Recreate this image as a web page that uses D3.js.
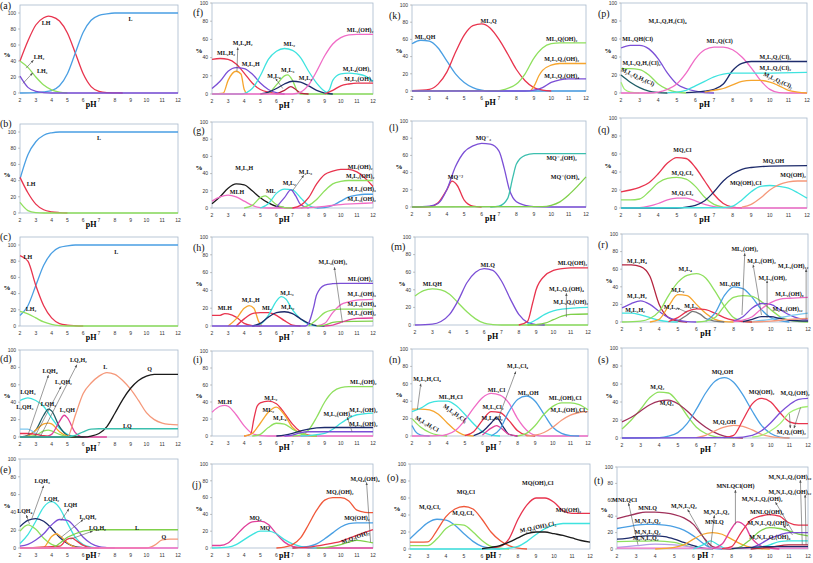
<!DOCTYPE html>
<html><head><meta charset="utf-8">
<script src="https://cdn.jsdelivr.net/npm/d3@7"></script>
<style>body{margin:0;background:#fff}svg{display:block}</style>
</head><body>
<svg id="chart" width="813" height="563"></svg>
<script>
// ---------- tick labels ----------
const xTicks = [2,3,4,5,6,7,8,9,10,11,12];
const yTicks = [0,20,40,60,80,100];

// ---------- palette ----------
const COL = {
  red:"#e8344e", blue:"#4a9fe3", green:"#8fe05e", purple:"#7b4fd6", pink:"#f06cc6", cyan:"#3fe3df",
  orange:"#f6a52e", navy:"#1d2b6b", black:"#1a1a1a", salmon:"#f5987a", teal:"#3cbfae", dred:"#b4243f",
  lgreen:"#a4ee74", lblue:"#7cc8f0", lpurple:"#b59be8", grey:"#777777", magenta:"#e0409a",
  dteal:"#1f5d66", ored:"#f0583a", maroon:"#a0305a", lgreen2:"#7fd04a"
};

// ---------- data: each series is flat [pH, %, pH, %, ...] ----------
// (a)
const sA = [
 [2,40,2.5,65,3,85,3.5,94,3.8,96,4,95.5,4.5,90,5,75,5.5,50,6,24,6.5,8,7,2,7.5,0.5,8,0.2,8.5,0],
 [2,0,3,0.5,3.5,1.5,4,3,4.5,9,5,24,5.5,50,6,76,6.5,91,7,97,7.5,99,8,100,12,100],
 [2,40,2.5,32,3,20,3.5,10,4,4,4.5,1,5,0],
 [2,21,2.5,7,3,2,3.5,0.5,4,0,12,0]];
const cA = ["red","blue","green","purple"];
const lA = [["LH",3.65,87],["L",9.0,92],["LH2",3.2,45],["LH3",3.4,27]];
const aA = [[2.38,31,2.85,41],[2.19,12,2.8,25]];
// (b)
const sB = [
 [2,42,2.5,72,3,88,3.5,96,4,99,4.5,100,12,100],
 [2,44,2.5,25,3,11,3.5,4,4,1.5,4.5,0.5,5,0],
 [2,13,2.5,3,3,0.5,3.5,0,12,0]];
const cB = ["blue","red","green"];
const lB = [["L",7.0,93],["LH",2.7,36]];
const aB = [];
// (c)
const sC = [
 [2,13,2.5,25,3,50,3.5,75,4,90,4.5,97,5,99,5.5,100,12,100],
 [2,87,2.5,80,3,50,3.5,25,4,10,4.5,3,5,1,5.5,0.3,6,0],
 [2,18,2.5,15,3,10,3.5,5,4,2,4.5,0.5,5,0,12,0]];
const cC = ["blue","red","green"];
const lC = [["LH",2.5,85],["L",8.1,91],["LH2",2.7,21]];
const aC = [];
// (d)
const sD = [
 [2,42,2.5,45,3,42,3.5,35,4,22,4.5,10,5,3,5.5,0.5,6,0],
 [2,0,2.5,2,3,8,3.5,25,3.8,32,4,30,4.5,12,5,2,5.5,0],
 [2,0,2.5,1,3,8,3.5,15,3.8,16,4,15,4.5,6,5,1,5.5,0],
 [2,0,3,2,3.5,7,3.8,8,4,7,4.5,3,5,0.5,5.5,0],
 [2,0,3.5,0,4,3,4.5,18,4.8,25,5,22,5.5,5,6,0,7.5,0],
 [2,9,2.5,9,3,4,3.5,1,4,0],
 [2,4,2.5,4,3,3,3.5,1.5,4,0.5,4.5,0],
 [2,0,5,0,5.5,25,6,50,6.5,62,7,70,7.5,74,8,72,8.5,65,9,55,9.5,42,10,28,10.5,20,11,16,11.5,14.5,12,14],
 [2,0,6,0,6.5,1,7,4,7.5,12,8,27,8.5,43,9,56,9.5,65,10,70,10.5,72,11,72,12,72],
 [2,0,5,0,5.5,2,6,6,6.5,9,7,9.5,12,9.5]];
const cD = ["cyan","dteal","orange","green","magenta","lblue","red","salmon","black","teal"];
const lD = [["LQ2H2",5.7,88],["LQH4",3.9,76],["L2QH2",4.75,63],["LQH3",2.5,52],["L2QH3",2.3,35],["LQH2",3.8,38],["L2QH",5.0,31],["L",7.4,80],["Q",10.2,78],["LQ",8.8,13]];
const aD = [[3.3,1,5.6,83],[2.5,2,3.8,71],[2.95,1,4.6,58]];
// (e)
const sE = [
 [2,5,2.5,15,3,30,3.5,46,4,52,4.5,45,5,28,5.5,12,6,4,6.5,1,7,0],
 [2,24,2.5,31,3,33,3.5,30,4,22,4.5,12,5,5,5.5,1.5,6,0.5,6.5,0],
 [2,19,2.5,26,3,21,3.5,11,4,4,4.5,1,5,0],
 [2,2,2.5,4,3,9,3.5,16,4,26,4.5,32,5,31,5.5,23,6,12,6.5,5,7,1.5,7.5,0.5,8,0],
 [2,0,3.5,1,4,13,4.3,16,4.5,14,5,6,5.5,1,6,0],
 [2,0,4.5,2,5,10,5.3,11,5.5,9,6,3,6.5,0.5,7,0],
 [2,0,4,0,4.5,5,5,12,5.5,16,6,19,6.5,20,7,20.5,12,20.5],
 [2,0,10,0,10.5,3,11,9,11.5,10,12,10],
 [2,0,12,0]];
const cE = ["cyan","navy","green","purple","orange","red","lgreen2","salmon","pink"];
const lE = [["LQH3",3.4,75],["LQH2",4.0,55],["LQH",5.2,48],["LQH4",2.3,42],["L2QH2",6.3,35],["LQ2H2",6.9,22],["L",9.4,22],["Q",11.1,12]];
const aE = [[2.75,33,3.5,70],[2.6,27,2.4,37],[4.6,31,5.1,44],[4.6,12,6.0,32],[5.2,10,6.6,19]];
// (f)
const sF = [
 [2,38,2.5,39,3,38,3.5,33,4,23,4.5,12,5,5,5.5,2,6,0.5,6.5,0],
 [2,6,2.5,14,3,25,3.5,29,4,28,4.5,22,5,12,5.5,5,6,1.5,6.5,0],
 [2,0,2.7,1,3,15,3.5,25,3.8,22,4,5,4.2,0],
 [2,0,3.8,0,4.5,6,5,20,5.5,38,6,47,6.5,50,7,48,7.5,40,8,25,8.5,12,9,3,9.3,0.5,9.5,0],
 [5,0,5.5,1,6,10,6.5,20,6.7,21,7,15,7.3,3,7.5,0,12,0],
 [5,0,5.5,2,6,6,6.5,11,7,14,7.5,13,8,9,8.5,4,9,1,9.5,0],
 [6,0,6.5,4,6.9,8,7.2,5,7.5,1,8,0],
 [2,0,7,0,7.5,2,8,10,8.5,25,9,42,9.5,55,10,62,10.5,65,11,65.5,12,65.5],
 [9,0,9.3,5,9.5,15,10,22,10.5,23,11,22,11.5,20,12,14],
 [9,0,9.5,4,10,9,10.5,11,11,12,12,12]];
const cF = ["red","purple","orange","cyan","green","navy","dred","pink","cyan","red"];
const lF = [["ML2H2",2.87,45],["M2L4H2",3.9,56],["M2L3H",4.4,33],["ML2",6.8,55],["M2L3",6.7,26],["M2L2",7.8,18],["M2L4",5.85,20],["ML2(OH)2",11.2,70],["M2L4(OH)2",11.0,27],["M2L2(OH)2",11.1,16]];
const aF = [[3.55,25,3.6,51],[6.4,6,5.95,17]];
// (g)
const sG = [
 [2,5,2.5,13,3,23,3.5,28,4,27,4.5,20,5,12,5.5,6,6,2,6.5,0.5,7,0],
 [2,8,2.5,13,3,15,3.5,13,4,8,4.5,3,5,0.5,5.5,0,7.5,0],
 [4,0,4.5,3,5,12,5.3,14,5.5,12,6,4,6.5,0.5,7,0],
 [5,0,5.5,5,6,17,6.5,22,7,21,7.5,12,8,3,8.5,0],
 [6,1,6.5,12,6.9,21,7.2,14,7.5,4,8,0],
 [7,0,7.5,3,8,12,8.5,28,9,39,9.5,43,10,45,10.5,45,11,42,11.5,35,12,25],
 [7.5,0,8,3,8.5,10,9,20,9.5,28,10,31,10.5,32,12,32],
 [8.5,0,9,0.5,9.5,3,10,8,10.5,13,11,15,11.5,16,12,16],
 [7.5,0,8,0.5,9,2,10,4,11,5,12,6]];
const cG = ["black","pink","green","cyan","purple","red","green","blue","pink"];
const lG = [["M2L3H",4.0,46],["MLH",3.55,19],["ML",5.65,20],["M2L2",6.8,29],["M2L3",7.8,42],["ML(OH)2",11.2,48],["M2L2(OH)2",11.2,37],["M2L2(OH)3",11.3,22],["M2L3(OH)2",11.3,10]];
const aG = [[7.0,20,7.7,38]];
// (h)
const sH = [
 [2,12,2.5,12,2.8,14,3,13.5,3.5,10,4,3,4.5,0.5,5,0],
 [3,0,3.5,8,4,20,4.3,23,4.6,20,4.9,5,5.1,0],
 [3.5,0,4,8,4.5,14,5,15,5.5,15,6,12,6.5,6,7,1,7.5,0],
 [4.5,0,5,2,5.5,12,6,28,6.3,33,6.6,30,7,18,7.5,8,8,2,8.5,0],
 [4.5,0,5,3,5.5,10,6,15,6.5,16,7,14,7.5,8,8,3,8.5,0.5,9,0],
 [2,0,7.8,0,8,3,8.3,20,8.5,35,9,46,9.5,47.5,10,48,12,48],
 [8.5,0,9,3,9.5,15,10,24,10.5,27,11,29,12,30],
 [8,0,8.5,7,9,15,9.5,18,10,19,12,19],
 [8.5,0,9,1,9.5,4,10,5,12,5.5],
 [9,0,9.5,1,10,4,10.5,7,11,8.5,12,9]];
const cH = ["red","orange","red","cyan","navy","purple","pink","green","lgreen2","magenta"];
const lH = [["MLH",2.8,20],["M2L3H",4.4,29],["ML",5.4,20],["M2L3",6.65,37],["M2L2",6.7,21],["M2L3(OH)3",9.5,72],["ML(OH)2",11.2,53],["M2L3(OH)3",11.3,36],["M2L2(OH)4",11.3,25],["M2L3(OH)2",11.3,15]];
const aH = [[10.1,4,9.6,66]];
// (i)
const sI = [
 [2,28,2.5,35,2.8,36,3,35,3.5,25,4,12,4.5,3,5,0.5,5.5,0,12,0],
 [4,0,4.4,2,4.6,20,4.8,35,5,39,5.5,41,6,38,6.5,27,7,14,7.5,5,8,1,8.5,0],
 [4,0,4.5,3,5,15,5.5,28,6,34,6.5,25,7,10,7.5,3,8,0.5,8.5,0],
 [4.5,0,5,2,5.5,10,6,15,6.5,14,7,8,7.5,3,8,0.5,8.5,0],
 [7,0,7.5,1,8,7,8.5,22,9,40,9.5,52,10,57,10.5,58,12,58],
 [7.5,0,8,0.5,9,3,9.5,8,10,15,10.5,21,11,25,12,27],
 [6,0,6.5,1,7,3,7.5,6,8,8,8.5,9.5,9,10,12,10],
 [6.5,0,7,1,7.5,4,8,5,12,5]];
const cI = ["pink","red","orange","green","green","cyan","navy","purple"];
const lI = [["MLH",2.8,40],["M2L2",5.65,45],["ML2",5.5,31],["M2L4",6.2,21],["ML2(OH)2",11.4,64],["M2L2(OH)2",11.4,31],["M2L3(OH)3",9.8,26],["M2L3(OH)2",11.4,14]];
const aI = [[10.7,5,10.4,22]];
// (j)
const sJ = [
 [2,3,2.5,3,3,6,3.5,15,4,25,4.5,31,5,32,5.5,28,6,17,6.5,7,7,2,7.5,0.5,8,0,12,0],
 [2,0,3,1,3.5,4,4,10,4.5,16,5,20,5.5,20,6,17,6.5,10,7,5,7.5,2,8,0.5,8.5,0],
 [6,0,6.5,1,7,4,7.5,12,8,28,8.5,45,9,57,9.5,60,10,60,10.5,56,11,45,11.5,42.5,12,42],
 [7,0,7.5,1,8,2,8.5,5,9,11,9.5,18,10,25,10.5,29,11,30,12,30],
 [7,0,8,1,9,4,10,8,11,15,12,22],
 [8.5,0,9,0.5,10,4,10.5,7,11,9,11.5,8,12,6]];
const cJ = ["magenta","cyan","ored","blue","red","lgreen2"];
const lJ = [["MQ2",4.7,36],["MQ",5.3,24],["MQ2(OH)2",9.95,67],["MQ(OH)2",11.0,36],["M2Q4(OH)4",11.5,82],["M2Q2(OH)2",10.9,13,-20]];
const aJ = [[11.85,7,11.6,78]];
// (k)
const sK = [
 [2,55,2.5,59,3,58,3.5,50,4,35,4.5,20,5,10,5.5,4,6,1,6.5,0,12,0],
 [2,0.5,3,2,3.5,8,4,22,4.5,45,5,65,5.5,76,6,78,6.5,73,7,60,7.5,43,8,25,8.5,12,9,4,9.5,1,10,0],
 [2,0,7,0.5,7.5,3,8,8,8.5,20,9,38,9.5,50,10,55,10.5,56,12,56],
 [8.8,0,9,5,9.3,18,9.5,24,10,30,10.5,32,12,32],
 [2,0,8.5,0,9,1,9.5,4,10,10,10.5,13,11,14,12,14]];
const cK = ["blue","red","green","orange","purple"];
const lK = [["ML2QH",2.75,63],["ML2Q",6.4,81],["ML2Q(OH)2",10.6,60],["M2L2Q2(OH)2",10.6,37],["M2L2Q2(OH)4",10.6,17]];
const aK = [];
// (l)
const sL = [
 [2,0,3,0.5,3.5,5,4,20,4.3,30,4.6,25,5,8,5.5,1,6,0],
 [2,0,3,1,3.5,4,4,20,4.5,47,5,64,5.5,71,6,74,6.5,73,7,65,7.3,45,7.6,20,8,6,8.5,2,9,0.5,10,0,12,0],
 [6.5,0,7,1,7.5,10,7.8,35,8,50,8.5,60,9,62,10,62,12,62],
 [2,0,9.5,0.5,10,2,10.5,6,11,14,11.5,24,12,35]];
const cL = ["red","purple","teal","lgreen2"];
const lL = [["MQ^-^2",4.5,35],["MQ^-3",6.1,80],["MQ^-3(OH)2",10.6,57],["MQ^-(OH)4",10.8,35]];
const aL = [];
// (m)
const sM = [
 [2,33,2.5,39,3,41,3.5,40,4,35,4.5,25,5,15,5.5,7,6,2,6.5,0.5,7,0,12,0],
 [2,0,3,1,3.5,4,4,12,4.5,28,5,48,5.5,60,6,64,6.5,62,7,50,7.5,30,8,12,8.5,3,9,0.5,9.5,0],
 [8,0,8.5,4,8.8,25,9,40,9.5,56,10,62,10.5,64,11,65,12,65],
 [8.5,1,9,6,9.5,12,10,16,10.5,18,12,20],
 [8.5,0,9,0.5,9.5,2,10,6,10.5,10,11,12,12,12.5]];
const cM = ["green","purple","red","cyan","lgreen2"];
const lM = [["MLQH",3.0,47],["MLQ",6.2,68],["MLQ(OH)2",11.1,70],["M2L2Q2(OH)4",10.75,41],["M2L2Q2(OH)2",11.0,26]];
const aM = [[10.75,9,10.75,36]];
// (n)
const sN = [
 [2,31,2.5,31,3,30,3.5,25,4,15,4.5,6,5,1,5.5,0],
 [2,28,2.5,32,3,38,3.5,40,4,40,4.5,35,5,25,5.5,14,6,5,6.5,1,7,0],
 [2,20,2.5,10,3,4,3.5,1,4,0],
 [2,12,2.2,5,2.5,1,3,0],
 [2,0,3.5,0.5,4,2,4.5,7,5,18,5.5,32,6,44,6.5,49,7,47,7.5,38,8,20,8.5,7,9,1,9.5,0,12,0],
 [5,0.5,5.5,5,6,18,6.5,28,7,27,7.5,18,8,6,8.5,1,9,0],
 [5.5,0.5,6,5,6.5,15,6.8,21,7.2,10,7.5,2,8,0],
 [6,1,6.5,9,6.8,12,7,10,7.5,2,8,0],
 [6.5,0,7,8,7.5,28,8,42,8.5,46,9,40,9.5,25,10,10,10.5,3,11,0.5,11.5,0],
 [8,0,8.5,3,9,12,9.5,25,10,34,10.5,38,11,38,11.5,36,12,30],
 [8.5,0,9,1,9.5,4,10,10,10.5,18,11,24,11.5,27,12,28]];
const cN = ["orange","cyan","green","blue","pink","red","navy","magenta","blue","green","salmon"];
const lN = [["M2L2H2Cl4",2.85,65],["ML2H2Cl",4.2,45],["M2L3H2Cl2",4.45,26,35],["M2L2H2Cl",2.85,14,30],["ML2Cl",6.8,53],["M2L3Cl2",6.6,33],["M2L2Cl2",6.55,21],["M2L3Cl4",8.0,80],["ML2OH",8.6,50],["ML2(OH)2Cl",10.7,44],["M2L2(OH)2Cl2",10.9,30]];
const aN = [[2.3,30,2.5,60],[6.9,20,7.9,74]];
// (o)
const sO = [
 [2,12,2.5,22,3,31,3.5,35,4,34,4.5,28,5,18,5.5,9,6,3,6.5,1,7,0],
 [2,8,2.5,8,3,8.5,3.5,22,4,38,4.5,47,5,50,5.5,47,6,35,6.5,20,7,10,7.5,4,8,1,8.5,0],
 [2,4,2.5,4,3,4,3.5,12,4,24,4.5,29,5,28,5.5,20,6,10,6.5,3,7,1,7.5,0],
 [6,0,6.5,1,7,3,7.5,12,8,35,8.5,52,9,60,9.5,60,10,55,10.5,45,11,42,12,42],
 [2,0,7,0,7.5,1,8,3,8.5,9,9,17,9.5,24,10,28,10.5,30,12,30],
 [6,0.5,6.5,2,7,4,7.5,8,8,13,8.5,18,9,20,9.5,20,10,18,10.5,16,11,13,11.5,10,12,8]];
const cO = ["blue","ored","green","red","cyan","black"];
const lO = [["M2Q2Cl2",3.1,49],["MQ2Cl",5.1,67],["M2Q2Cl2",4.95,42],["MQ(OH)2Cl",9.1,78],["MQ(OH)2",10.8,46],["M2Q2(OH)2Cl2",9.1,26,-12]];
const aO = [];
// (p)
const sP = [
 [2,50,2.5,53,3,53,3.5,49,4,38,4.5,22,5,10,5.5,5,6,2,6.5,0.5,7,0],
 [2,27,2.5,27,3,26,3.5,20,4,10,4.5,4,5,1,5.5,0],
 [2,20,2.5,12,3,6,3.5,2,4,0.5,4.5,0],
 [2,12,2.2,4,2.5,1,3,0],
 [2,0,3.5,0,4,1,4.5,4,5,10,5.5,22,6,38,6.5,48,7,51,7.5,51,8,48,8.5,40,9,28,9.5,14,10,4,10.5,0.5,11,0,12,0],
 [5.5,0.5,6,1,6.5,2,7,4,7.5,10,8,25,8.5,33,9,35,10,35,12,35],
 [4.5,0.5,5,1,5.5,3,6,8,6.5,13,7,18,7.5,21,8,22,9,22,12,23],
 [6.5,1,7,3,7.5,5,8,9,8.5,13,9,14,9.5,14,10,12,10.5,8,11,3,11.5,1,12,0]];
const cP = ["purple","green","dteal","lgreen","pink","navy","cyan","orange"];
const lP = [["M2L2Q2H2(Cl)4",4.5,80],["ML2QH(Cl)",2.9,60],["M2L2Q2H2(Cl)2",3.1,33],["M2L2Q2H2(Cl)",2.9,18,25],["ML2Q(Cl)",7.3,58],["M2L2Q2(Cl)2",10.3,40],["M2L2Q2(Cl)2",10.3,28],["M2L2Q2(Cl)2",10.45,14,25]];
const aP = [];
// (q)
const sQ = [
 [2,18,2.5,20,3,23,3.5,28,4,38,4.5,50,5,56,5.5,55,6,45,6.5,30,7,15,7.5,5,8,1,8.5,0],
 [2,9,2.5,9,3,10,3.5,18,4,28,4.5,33,5,34,5.5,32,6,24,6.5,12,7,4,7.5,1,8,0],
 [2,0,3,0.5,3.5,2,4,5,4.5,9,5,11,5.5,11,6,8,6.5,4,7,1.5,7.5,0.5,8,0,12,0],
 [2,0,5,0,5.5,1,6,3,6.5,8,7,18,7.5,30,8,38,8.5,43,9,45,9.5,46,10,46.5,12,47],
 [2,0,7.5,0.5,8,2,8.5,9,9,18,9.5,24,10,25,10.5,24,11,22,11.5,17,12,11],
 [8.5,1,9,4,9.5,11,10,20,10.5,26,11,29,11.5,30,12,30]];
const cQ = ["red","green","pink","navy","cyan","salmon"];
const lQ = [["MQ2Cl",5.3,64],["M2Q2Cl2",5.3,39],["M2Q2Cl2",5.3,17],["MQ2OH",10.2,52],["MQ(OH)2Cl",8.7,28],["MQ(OH)2",11.25,37]];
const aQ = [];
// (r)
const sR = [
 [2,65,2.5,65,3,63,3.5,52,4,20,4.5,5,5,1,5.5,0],
 [2,16,2.5,21,3,24,3.5,20,4,12,4.5,5,5,2,5.5,0.5,6,0],
 [2,10,2.5,10,3,8,3.5,5,4,2,4.5,0.5,5,0],
 [2,0,3,1,3.5,4,4,12,4.5,30,5,45,5.5,53,6,55,6.5,50,7,35,7.5,18,8,5,8.5,1,9,0],
 [3.5,0,4,3,4.5,18,5,31,5.5,30,6,20,6.5,10,7,3,7.5,0.5,8,0],
 [4.5,0.5,5,5,5.5,12,6,15,6.5,14,7,10,7.5,5,8,2,8.5,0.5,9,0],
 [5,1,5.5,8,5.8,12,6.2,9,6.5,4,7,1,7.5,0],
 [6.5,1,7,10,7.5,30,8,40,8.5,38,9,28,9.5,14,10,5,10.5,1.5,11,0],
 [6,0,6.5,1,7,5,7.5,18,8,28,8.5,30,9,29,9.5,23,10,14,10.5,6,11,2,11.5,0.5,12,0],
 [8,1,8.5,6,9,16,9.5,21,10,20,10.5,14,11,8,11.5,4,12,2],
 [8,0.5,8.5,2,9,6,9.5,15,10,22,10.5,26,11,27,12,28],
 [9,0.5,10,3,11,7,12,10],
 [8.5,0.5,9,3,9.5,6,10,6,10.5,4,11,2,12,1],
 [9,0,10,1,11,3,12,4]];
const cR = ["dred","purple","cyan","green","orange","red","grey","blue","green","purple","pink","lblue","navy","salmon"];
const lR = [["M2L2H4",2.8,69],["M2L2H2",2.8,30],["M2L3H2",2.7,14],["M2L4",5.4,60],["M2L2",5.0,36],["M2L3",4.6,17],["M2L2",5.7,18],["ML2OH",7.8,43],["ML2(OH)2",8.6,83],["M2L2(OH)2",9.5,69],["M2L2(OH)7",10.1,50],["M2L2(OH)12",11.2,64],["M2L2(OH)9",11.0,32],["M2L2(OH)12",10.9,15]];
const aR = [[5.5,11,4.95,16],[8.45,8,8.6,78],[9.5,8,9.05,65],[9.8,5,9.8,47],[11.9,3,11.9,60]];
// (s)
const sS = [
 [2,10,2.5,20,3,32,3.5,45,4,51,4.5,50,5,40,5.5,25,6,12,6.5,5,7,1.5,7.5,0.5,8,0],
 [2,18,2.5,23,3,30,3.5,37,4,41,4.5,42,5,38,5.5,30,6,20,6.5,12,7,6,7.5,2,8,0.5,8.5,0],
 [2,0,4,0.5,4.5,2,5,6,5.5,16,6,32,6.5,50,7,63,7.5,67,8,62,8.5,48,9,30,9.5,14,10,5,10.5,1,11,0],
 [6,0.5,6.5,3,7,8,7.5,12,8,14,8.5,13,9,9,9.5,4,10,1.5,10.5,0.5,11,0],
 [7.5,0.5,8,3,8.5,20,9,38,9.5,44,10,40,10.5,28,11,18,11.5,16,12,16],
 [2,0,8,0.5,9,3,9.5,8,10,17,10.5,28,11,37,11.5,43,12,44],
 [9,1,9.5,3,10,8,10.5,16,11,28,11.5,33,12,35]];
const cS = ["green","maroon","blue","salmon","red","purple","lgreen"];
const lS = [["M2Q2",3.9,57],["M2Q3",4.4,39],["MQ2OH",7.4,73],["M2Q2OH",7.5,18],["MQ(OH)2",9.5,51],["M2Q2(OH)2",11.3,50],["M2Q2(OH)2",11.1,7]];
const aS = [[11.6,34,11.25,11],[11.0,27,11.05,11]];
// (t)
const sT = [
 [2,37,2.5,40,3,43,3.5,45,4,45,4.5,44,5,42,5.5,38,6,30,6.5,15,7,3,7.5,0.5,8,0],
 [2,25,2.5,27,3,29,3.5,30,4,30,4.5,29,5,27,5.5,23,6,16,6.5,7,7,1,7.5,0],
 [2,12,2.5,13,3,15,3.5,16,4,16,4.5,15,5,12,5.5,8,6,4,6.5,1,7,0],
 [2,9,3,9.5,4,10,5,8,5.5,5,6,2,6.5,0.5,7,0],
 [2,2,3,4,4,6,5,5,6,2,6.5,0.5,7,0],
 [2,1,12,1],
 [4,0,5,2,5.5,5,6,12,6.5,18,7,20,7.5,18,8,12,8.5,6,9,2,9.5,0.5,10,0],
 [6,0,6.5,5,6.9,10,7.3,5,7.7,0],
 [7,0.5,7.5,6,8,25,8.3,33,8.7,28,9,15,9.5,4,10,1,10.5,0],
 [7.5,0.5,8,3,8.5,20,9,35,9.5,40,10,42,10.5,40,11,32,11.5,29,12,29],
 [8,0,8.5,3,9,12,9.5,22,10,26,10.5,25,11,22,11.5,18,12,16],
 [9,1,9.5,6,10,13,10.5,17,11,20,12,20],
 [9,0.5,10,5,10.5,9,11,10,12,10],
 [9,0,10,2,11,5,12,5],
 [8,0.5,9,2,10,3,12,3]];
const cT = ["maroon","blue","navy","green","lpurple","pink","orange","cyan","magenta","red","lgreen2","purple","cyan","dred","navy"];
const lT = [["MNLQCl",2.4,60],["MNLQ",3.6,50],["M2N2L2Q2",3.6,34],["M2N2L2Q2",3.6,21],["M2N2L2Q2",3.5,13],["M2N2L2Q2",5.5,52],["M2N2L2Q2",7.2,45],["MNLQ",7.1,33],["MNLQCl(OH)",8.2,77],["M2N2L2Q2(OH)2",9.6,61],["MNLQ(OH)2",9.85,45],["M2N2L2Q2(OH)4",9.9,32],["M2N2L2Q2(OH)6",10.0,15],["M2N2L2Q2(OH)10",11.05,88],["M2N2L2Q2(OH)12",11.05,70]];
const aT = [[3.1,5,2.6,56],[6.8,3,5.7,48],[6.9,3,7.1,41],[8.2,30,8.2,72],[11.2,21,10.3,57],[11.2,17,10.7,29],[11.7,5,11.6,84],[11.9,5,11.85,66]];

// ---------- layout: id, px of pH2, px of pH12, px of 100%, px of 0%, box top, panel-label x, y ----------
const frames = [
 ["a",20,178,13,93,5,0,9, sA,cA,lA,aA],
 ["b",20,178,132,213,124,0,127, sB,cB,lB,aB],
 ["c",20,178,245,326,237,0,240, sC,cC,lC,aC],
 ["d",20,178,350,437,350,0,362, sD,cD,lD,aD],
 ["e",20,178,459,548,459,0,473, sE,cE,lE,aE],
 ["f",212,373,3,94,3,193,16, sF,cF,lF,aF],
 ["g",212,373,122,208,122,193,134, sG,cG,lG,aG],
 ["h",212,373,237,326,237,193,251, sH,cH,lH,aH],
 ["i",212,373,351,436,351,193,363, sI,cI,lI,aI],
 ["j",212,373,464,548,464,192,488, sJ,cJ,lJ,aJ],
 ["k",412,586,5,91,5,389,19, sK,cK,lK,aK],
 ["l",412,586,121,207,121,389,131, sL,cL,lL,aL],
 ["m",415,588,237,325,237,391,250, sM,cM,lM,aM],
 ["n",412,588,349,436,349,389,363, sN,cN,lN,aN],
 ["o",410,590,464,549,464,387,481, sO,cO,lO,aO],
 ["p",621,807,3,93,3,598,17, sP,cP,lP,aP],
 ["q",621,807,118,208,118,598,133, sQ,cQ,lQ,aQ],
 ["r",622,808,234,322,234,598,248, sR,cR,lR,aR],
 ["s",622,808,348,438,348,598,363, sS,cS,lS,aS],
 ["t",617,808,467,549,467,594,484, sT,cT,lT,aT]
];

const svg = d3.select("#chart");
const defs = svg.append("defs");
defs.append("marker").attr("id","ah").attr("viewBox","0 0 10 10").attr("refX",9).attr("refY",5)
  .attr("markerWidth",5).attr("markerHeight",5).attr("orient","auto")
  .append("path").attr("d","M0,1 L10,5 L0,9 z").attr("fill","#555");

// convert chemical names to sub/superscript unicode text
const SUB = "₀₁₂₃₄₅₆₇₈₉";
const SUP = {"-":"⁻","2":"²","3":"³","1":"¹"};
function chem(s){
  let out = "", prev = "";
  for (let i=0;i<s.length;i++){
    const ch = s[i];
    if (ch === "^"){ i++; out += SUP[s[i]] || s[i]; prev = "sup"; continue; }
    if (/[0-9]/.test(ch) && (prev==="L"||prev==="sub"||prev==="sup")){ out += SUB[+ch]; prev = "sub"; }
    else { out += ch; prev = /[A-Za-z)]/.test(ch) ? "L" : "o"; }
  }
  return out;
}

const toPts = arr => { const p=[]; for(let i=0;i<arr.length;i+=2) p.push([arr[i],arr[i+1]]); return p; };
const SERIF = "Liberation Serif, DejaVu Serif, Times New Roman, serif";

frames.forEach(f=>{
  const [id,x2,x12,y100,y0,boxTop,lx,ly,series,colors,labels,arrows] = f;
  const x = d3.scaleLinear().domain([2,12]).range([x2,x12]);
  const y = d3.scaleLinear().domain([0,100]).range([y0,y100]);
  const g = svg.append("g");
  g.append("rect").attr("x",x2).attr("y",boxTop).attr("width",x12-x2).attr("height",y0-boxTop)
    .attr("fill","none").attr("stroke","#a9b9cc").attr("stroke-width",0.8);
  // y ticks
  g.selectAll(".yt").data(yTicks).enter().append("text")
    .attr("x",x2-4).attr("y",d=>y(d)+1.8).attr("text-anchor","end")
    .attr("font-family","Liberation Sans, Arial").attr("font-size",5).attr("fill","#333").text(d=>d);
  g.selectAll(".ytm").data(yTicks).enter().append("line")
    .attr("x1",x2-2).attr("x2",x2).attr("y1",d=>y(d)).attr("y2",d=>y(d)).attr("stroke","#888").attr("stroke-width",0.5);
  // x ticks
  g.selectAll(".xt").data(xTicks).enter().append("text")
    .attr("x",d=>x(d)).attr("y",y0+9).attr("text-anchor","middle")
    .attr("font-family","Liberation Sans, Arial").attr("font-size",5).attr("fill","#333").text(d=>d);
  // axis titles
  g.append("text").attr("x",x(6.5)).attr("y",Math.min(y0+14,558)).attr("text-anchor","middle")
    .attr("font-family",SERIF).attr("font-weight","bold").attr("font-size",8).text("pH");
  g.append("text").attr("x",x2-13).attr("y",y(47)+2).attr("text-anchor","middle")
    .attr("font-family",SERIF).attr("font-weight","bold").attr("font-size",7).text("%");
  g.append("text").attr("x",lx).attr("y",ly).attr("font-family",SERIF)
    .attr("font-size",10).attr("fill","#111").text("("+id+")");
  // curves
  const line = d3.line().x(d=>x(d[0])).y(d=>y(d[1])).curve(d3.curveMonotoneX);
  series.forEach((s,i)=>{
    g.append("path").attr("d",line(toPts(s))).attr("fill","none")
      .attr("stroke",COL[colors[i]]).attr("stroke-width",1.3).attr("stroke-linejoin","round");
  });
  // arrows
  arrows.forEach(a=>{
    g.append("line").attr("x1",x(a[0])).attr("y1",y(a[1])).attr("x2",x(a[2])).attr("y2",y(a[3]))
      .attr("stroke","#555").attr("stroke-width",0.6).attr("marker-end","url(#ah)");
  });
  // labels
  labels.forEach(l=>{
    const t = g.append("text").attr("x",x(l[1])).attr("y",y(l[2])+2).attr("text-anchor","middle")
      .attr("font-family",SERIF).attr("font-weight","bold")
      .attr("font-size",6).attr("fill","#111").text(chem(l[0]));
    if (l[3]) t.attr("transform",`rotate(${l[3]},${x(l[1])},${y(l[2])})`);
  });
});
</script>
</body></html>
